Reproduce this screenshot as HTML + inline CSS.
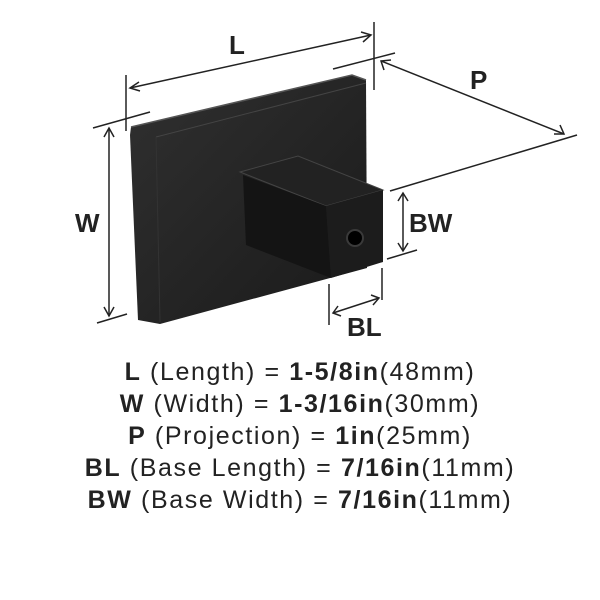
<!DOCTYPE html>
<html><head><style>
html,body{margin:0;padding:0;background:#fff;width:600px;height:600px;overflow:hidden}
.t{position:absolute;left:0;width:600px;text-align:center;font-family:"Liberation Sans",sans-serif;font-size:25px;color:#222;letter-spacing:1.6px;line-height:32px}
b{font-weight:bold}
</style></head><body>
<svg width="600" height="600" style="position:absolute;left:0;top:0">
<defs>
<linearGradient id="pf" x1="0" y1="0" x2="1" y2="1">
<stop offset="0" stop-color="#303030"/><stop offset="1" stop-color="#1a1a1a"/></linearGradient>
</defs>
<polygon points="131,127 352,75 366,80 367,268 160,324 138,320 130,135" fill="url(#pf)"/>
<polyline points="131,127 352,75 366,80" fill="none" stroke="#555" stroke-width="1.5"/>
<line x1="156" y1="137" x2="366" y2="83" stroke="#444" stroke-width="1"/>
<line x1="156" y1="137" x2="160" y2="322" stroke="#333" stroke-width="1"/>
<polygon points="240,172 298,156 383,190 326,206" fill="#222" stroke="#444" stroke-width="1"/>
<polygon points="243,175 326,206 331,278 246,245" fill="#141414"/>
<polygon points="326,206 383,190 383,262 331,278" fill="#1c1c1c"/>
<circle cx="355" cy="238" r="8" fill="#000" stroke="#3a3a3a" stroke-width="2"/>
<g stroke="#222" stroke-width="1.5" fill="none">
<line x1="126" y1="75" x2="126" y2="131"/>
<line x1="374" y1="22" x2="374" y2="90"/>
<line x1="93" y1="128" x2="150" y2="112"/>
<line x1="333" y1="69" x2="395" y2="53"/>
<line x1="130" y1="88" x2="371" y2="35"/>
<polyline points="139,82 130,88 140,91"/><polyline points="361,32 371,35 363,42"/>
<line x1="381" y1="61" x2="564" y2="134"/>
<polyline points="384,70 381,61 391,60"/><polyline points="554,134 564,134 560,125"/>
<line x1="390" y1="191" x2="577" y2="135"/>
<line x1="109" y1="128" x2="109" y2="316"/>
<polyline points="104,137 109,128 114,137"/><polyline points="104,307 109,316 114,307"/>
<line x1="97" y1="323" x2="127" y2="314"/>
<line x1="403" y1="193" x2="403" y2="251"/>
<polyline points="398,201 403,193 408,201"/><polyline points="398,243 403,251 408,243"/>
<line x1="387" y1="259" x2="417" y2="250"/>
<line x1="329" y1="284" x2="329" y2="325"/>
<line x1="382" y1="268" x2="382" y2="300"/>
<line x1="333" y1="313" x2="379" y2="298"/>
<polyline points="341,316 333,313 338,306"/><polyline points="371,295 379,298 373,305"/>
</g>
<g font-family="Liberation Sans,sans-serif" font-weight="bold" font-size="26" fill="#222">
<text x="229" y="54">L</text>
<text x="470" y="89">P</text>
<text x="75" y="232">W</text>
<text x="409" y="232">BW</text>
<text x="347" y="336">BL</text>
</g>
</svg>
<div class="t" style="top:356px"><b>L</b> (Length) = <b>1-5/8in</b>(48mm)</div>
<div class="t" style="top:388px"><b>W</b> (Width) = <b>1-3/16in</b>(30mm)</div>
<div class="t" style="top:420px"><b>P</b> (Projection) = <b>1in</b>(25mm)</div>
<div class="t" style="top:452px"><b>BL</b> (Base Length) = <b>7/16in</b>(11mm)</div>
<div class="t" style="top:484px"><b>BW</b> (Base Width) = <b>7/16in</b>(11mm)</div>
</body></html>
